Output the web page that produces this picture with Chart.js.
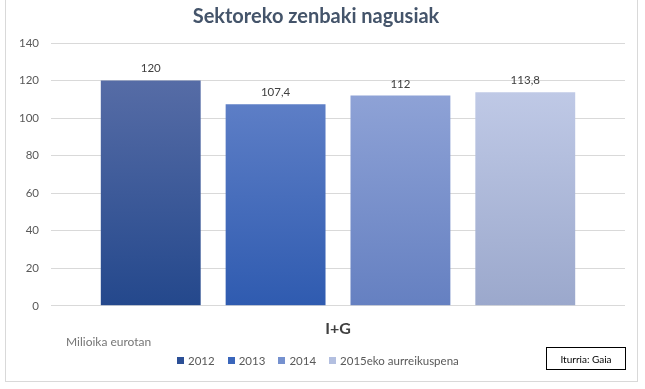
<!DOCTYPE html>
<html>
<head>
<meta charset="utf-8">
<script src="https://cdn.jsdelivr.net/npm/chart.js@4/dist/chart.umd.min.js"></script>
<style>
  html, body { margin: 0; padding: 0; background: #fff; }
  body { width: 645px; height: 389px; position: relative; overflow: hidden; font-family: Lato, "Open Sans", sans-serif; }
  #frame { position: absolute; left: 5px; top: -1px; width: 631px; height: 381px; border: 1px solid #d9d9d9; }
  #wrap { position: absolute; left: 0; top: 0; width: 645px; height: 389px; }
  #unit { position: absolute; left: 66px; top: 334px; font-size: 12px; color: #767676; }
  #legend { position: absolute; left: 177px; top: 354px; font-size: 11.5px; color: #595959; display: flex; gap: 13px; }
  #legend span.item { display: flex; align-items: center; }
  #legend i { display: inline-block; width: 7px; height: 7px; margin-right: 4px; }
  #source { position: absolute; left: 546px; top: 347px; width: 80px; height: 23px; border: 1px solid #000; font-size: 10px; color: #000; text-align: center; line-height: 23px; box-sizing: border-box; }
</style>
</head>
<body>
<div id="frame"></div>
<div id="wrap"><canvas id="chart" width="645" height="389"></canvas></div>
<div id="unit">Milioika eurotan</div>
<div id="legend"></div>
<div id="source">Iturria: Gaia</div>
<script>
const categories = ["I+G"];
const seriesLabels = ["2012", "2013", "2014", "2015eko aurreikuspena"];
const seriesValues = [[120], [107.4], [112], [113.8]];
const yMin = 0, yMax = 140, yStep = 20;

// gradient colours per series: [top, bottom]
const shades = [
    ["#566ca6", "#24488c"],
    ["#5d7ec6", "#2f5bb0"],
    ["#8ea2d6", "#6580c1"],
    ["#bfc9e6", "#9ba8cc"]
];
const legendColors = ["#2b4f96", "#3a66bb", "#7591cf", "#b3bfe0"];

function barFill(i) {
    return (c) => {
        const y = c.chart.scales.y;
        if (!y || c.type !== "data") return shades[i][1];
        const top = y.getPixelForValue(c.raw);
        const base = y.getPixelForValue(0);
        if (!isFinite(top) || !isFinite(base) || top === base) return shades[i][1];
        const g = c.chart.ctx.createLinearGradient(0, top, 0, base);
        g.addColorStop(0, shades[i][0]);
        g.addColorStop(1, shades[i][1]);
        return g;
    };
}

const valueLabels = {
    id: "valueLabels",
    afterDatasetsDraw(chart) {
        const ctx = chart.ctx;
        ctx.save();
        ctx.font = "11.5px Lato, 'Open Sans', sans-serif";
        ctx.fillStyle = "#404040";
        ctx.textAlign = "center";
        ctx.textBaseline = "bottom";
        chart.data.datasets.forEach((ds, i) => {
            chart.getDatasetMeta(i).data.forEach((bar, j) => {
                ctx.fillText(String(ds.data[j]).replace(".", ","), bar.x, bar.y - 6);
            });
        });
        ctx.restore();
    }
};

const chart = new Chart(document.getElementById("chart").getContext("2d"), {
    type: "bar",
    data: {
        labels: categories,
        datasets: seriesLabels.map((label, i) => ({
            label: label,
            data: seriesValues[i],
            backgroundColor: barFill(i),
            categoryPercentage: 0.87,
            barPercentage: 0.8
        }))
    },
    options: {
        responsive: false,
        animation: false,
        layout: { padding: { left: 7, right: 20, top: 2, bottom: 46 } },
        plugins: {
            legend: { display: false },
            tooltip: { enabled: false },
            title: {
                display: true,
                text: "Sektoreko zenbaki nagusiak",
                color: "#44546a",
                font: { family: "Lato, 'Open Sans', sans-serif", size: 20, weight: "bold" },
                padding: { top: 3, bottom: 14 }
            }
        },
        scales: {
            x: {
                grid: { display: false },
                border: { display: false },
                ticks: {
                    color: "#404040",
                    padding: 5,
                    font: { family: "Lato, 'Open Sans', sans-serif", size: 16, weight: "bold" }
                }
            },
            y: {
                min: yMin,
                max: yMax,
                border: { display: false },
                grid: { color: "#d9d9d9", drawTicks: false },
                ticks: {
                    stepSize: yStep,
                    padding: 12,
                    color: "#595959",
                    font: { family: "Lato, 'Open Sans', sans-serif", size: 11.5 }
                }
            }
        }
    },
    plugins: [valueLabels]
});

const legend = document.getElementById("legend");
seriesLabels.forEach((label, i) => {
    const item = document.createElement("span");
    item.className = "item";
    item.innerHTML = `<i style="background:${legendColors[i]}"></i>${label}`;
    legend.appendChild(item);
});
</script>
</body>
</html>
